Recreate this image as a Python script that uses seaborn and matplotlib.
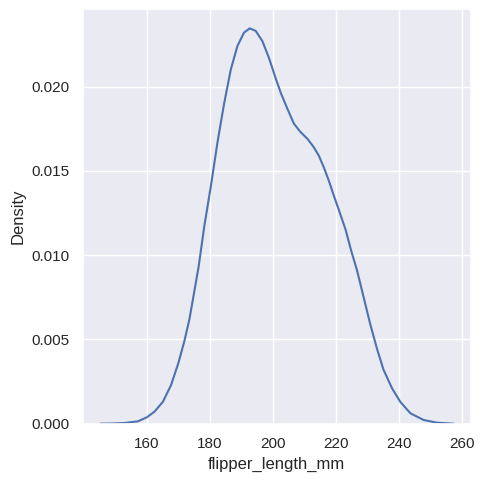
import matplotlib
matplotlib.use("Agg")
import matplotlib.pyplot as plt
import seaborn as sns
import pandas as pd

# density curve of flipper_length_mm
flipper_length_mm = [145.3, 149.0, 152.9, 157.2, 160.0, 162.4, 165.1, 167.7, 170.0,
                     171.9, 173.5, 175.0, 176.4, 178.2, 180.3, 182.4, 184.5, 186.6,
                     188.7, 190.8, 192.6, 194.5, 196.6, 198.7, 200.8, 202.5, 204.5,
                     206.6, 208.7, 210.9, 212.9, 214.5, 216.1, 217.7, 219.3, 220.8,
                     221.9, 223.0, 224.7, 226.6, 228.7, 230.8, 233.0, 235.0, 237.7,
                     240.3, 243.5, 247.7, 251.9, 257.2]
density = [0.0, 0.00001, 0.00004, 0.00014, 0.00038, 0.00071, 0.0013, 0.0023, 0.0036,
           0.0049, 0.0062, 0.0078, 0.0093, 0.0117, 0.0141, 0.0167, 0.0190, 0.0210,
           0.0224, 0.0232, 0.02345, 0.0233, 0.0227, 0.0217, 0.0205, 0.0196, 0.0187,
           0.0178, 0.0173, 0.0169, 0.0164, 0.0159, 0.0152, 0.0144, 0.0135, 0.0127,
           0.0121, 0.0115, 0.0103, 0.0091, 0.0075, 0.0059, 0.0044, 0.0032, 0.0021,
           0.0013, 0.00062, 0.00022, 0.00006, 0.0]

df = pd.DataFrame({"flipper_length_mm": flipper_length_mm, "Density": density})

sns.set_theme()
plt.rcParams["font.family"] = ["Liberation Sans", "DejaVu Sans"]

fig = plt.figure(figsize=(4.84, 4.83), dpi=100)
ax = fig.add_axes([0.171, 0.1228, 0.802, 0.8586])
sns.lineplot(data=df, x="flipper_length_mm", y="Density", ax=ax, linewidth=1.5)
ax.set_xlim(139.7, 262.7)
ax.set_ylim(0, 0.0246)
ax.set_xticks([160, 180, 200, 220, 240, 260])
ax.set_yticks([0.0, 0.005, 0.010, 0.015, 0.020])
ax.set_yticklabels(["0.000", "0.005", "0.010", "0.015", "0.020"])

fig.savefig("out.png", dpi=100)
